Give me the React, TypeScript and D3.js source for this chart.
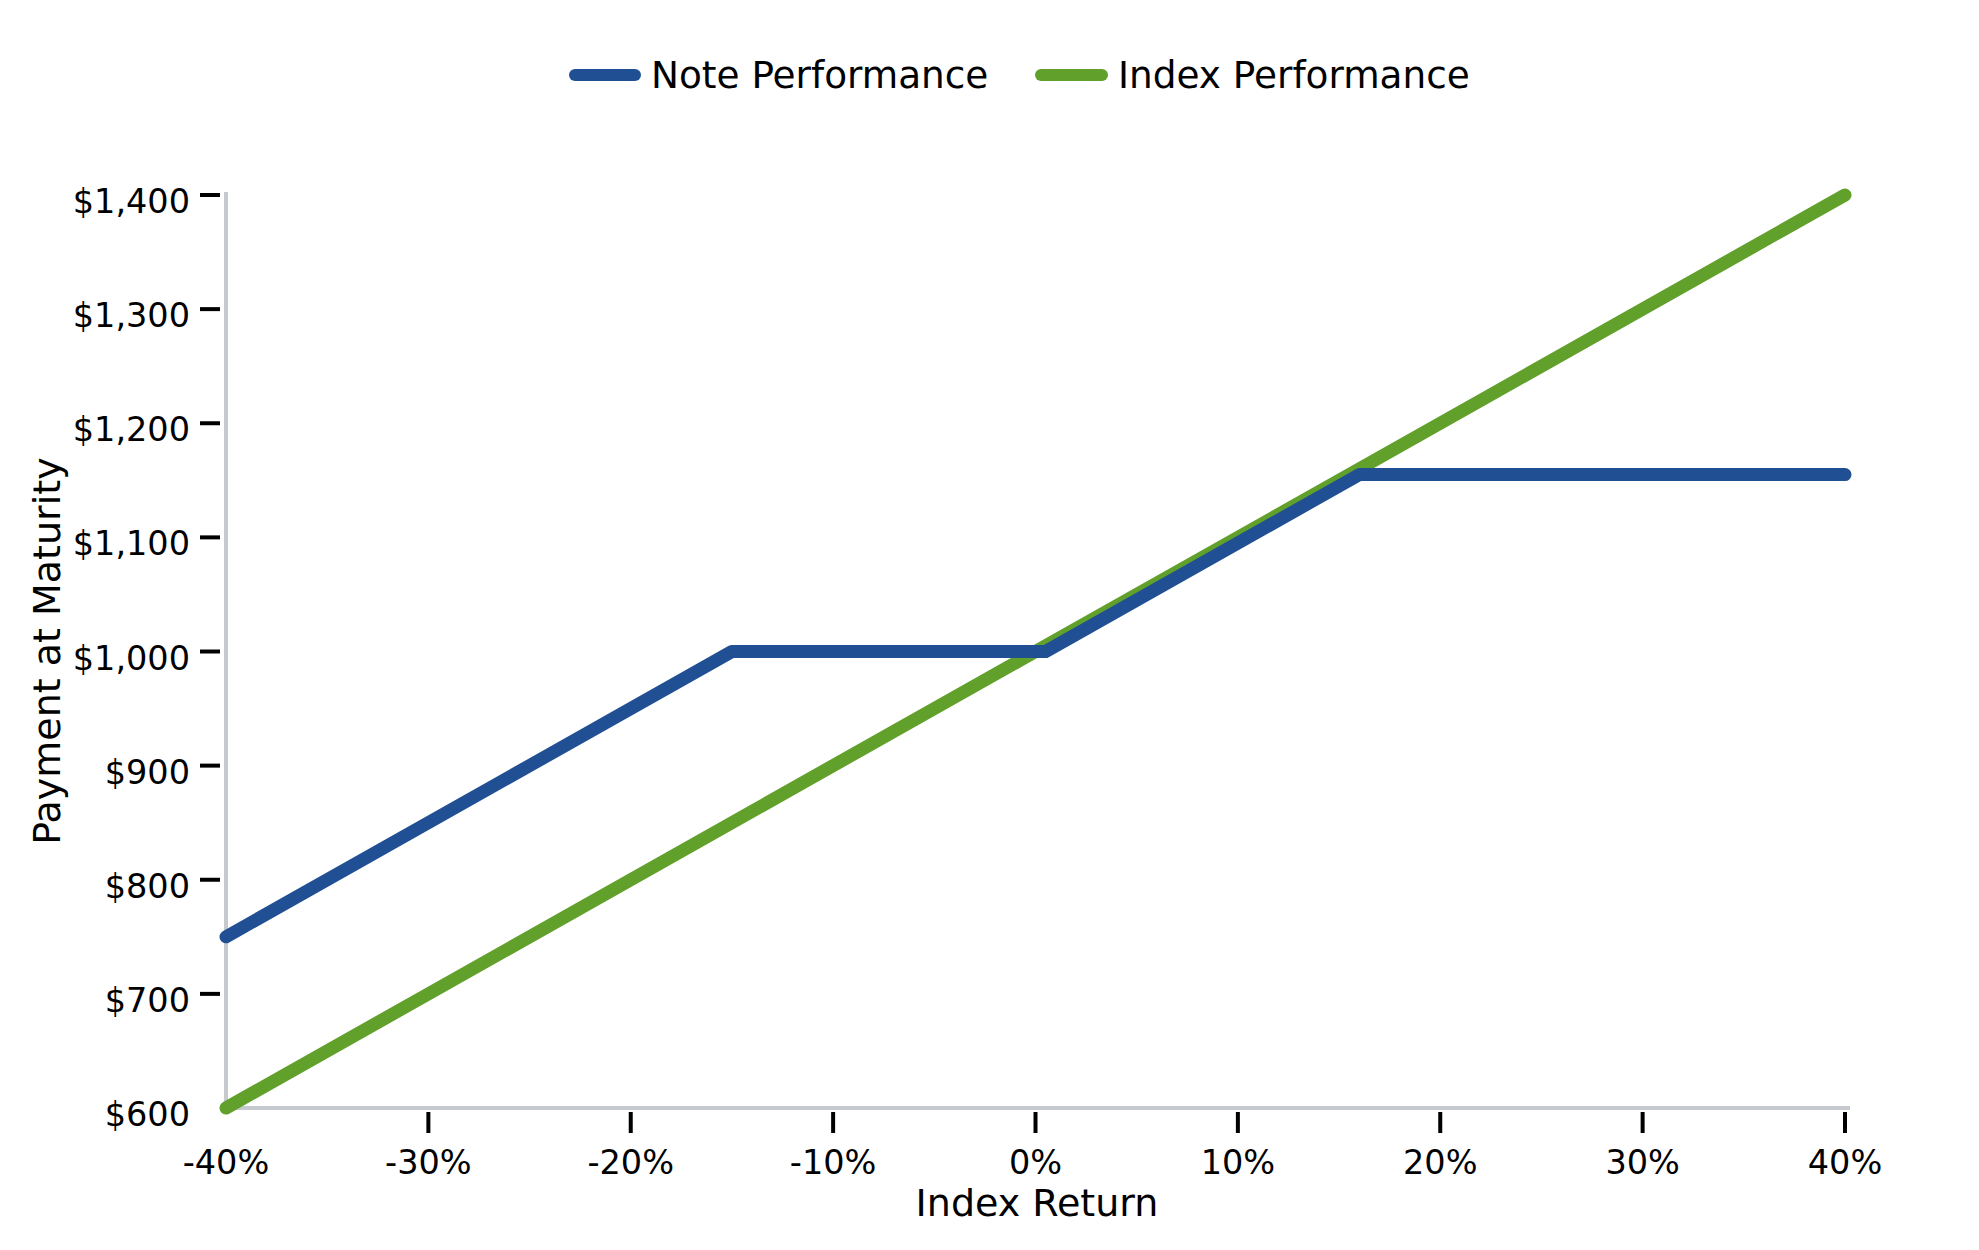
import React from "react";
import * as d3 from "d3";

const xTicks = [-40, -30, -20, -10, 0, 10, 20, 30, 40];
const yTicks = [600, 700, 800, 900, 1000, 1100, 1200, 1300, 1400];

// Index return (%) breakpoints and payment values
const noteReturn = [-40, -15, 0.5, 16, 40];
const notePayment = [750, 1000, 1000, 1155, 1155];
const indexReturn = [-40, 40];
const indexPayment = [600, 1400];

const seriesNames = ["Note Performance", "Index Performance"];
const seriesColors = ["#214f94", "#61a02b"];

const W = 1979;
const H = 1250;
const FONT = "'DejaVu Sans', sans-serif";

export default function App() {
  const x = d3.scaleLinear().domain([-40, 40]).range([226, 1845]);
  const y = d3.scaleLinear().domain([600, 1400]).range([1108, 195]);
  const line = d3
    .line<[number, number]>()
    .x((d) => x(d[0]))
    .y((d) => y(d[1]));

  const noteData: [number, number][] = noteReturn.map((r, i) => [r, notePayment[i]]);
  const indexData: [number, number][] = indexReturn.map((r, i) => [r, indexPayment[i]]);
  const fmtY = (v: number) => "$" + d3.format(",")(v);
  const axisColor = "#c6cacf";

  const legend = [
    { name: seriesNames[0], color: seriesColors[0], x1: 575, x2: 635, tx: 651 },
    { name: seriesNames[1], color: seriesColors[1], x1: 1041, x2: 1102, tx: 1118 },
  ];

  return (
    <svg
      width={W}
      height={H}
      style={{ position: "absolute", left: 0, top: 0, background: "#fff" }}
      fontFamily={FONT}
    >
      <rect x={0} y={0} width={W} height={H} fill="#fff" />
      {/* legend */}
      {legend.map((l) => (
        <g key={l.name}>
          <line x1={l.x1} x2={l.x2} y1={75} y2={75} stroke={l.color} strokeWidth={12} strokeLinecap="round" />
          <text x={l.tx} y={88} fontSize={37.4} fill="#000">
            {l.name}
          </text>
        </g>
      ))}

      {/* axes */}
      <line x1={226} x2={226} y1={192} y2={1110} stroke={axisColor} strokeWidth={4} />
      <line x1={224} x2={1850} y1={1108} y2={1108} stroke={axisColor} strokeWidth={4} />

      {/* y ticks */}
      {yTicks.map((v) => (
        <g key={v}>
          {v !== 600 && (
            <line x1={200} x2={220} y1={y(v)} y2={y(v)} stroke="#000" strokeWidth={4} />
          )}
          <text x={190} y={y(v) + 18} fontSize={33.5} textAnchor="end" fill="#000">
            {fmtY(v)}
          </text>
        </g>
      ))}

      {/* x ticks */}
      {xTicks.map((v) => (
        <g key={v}>
          {v !== -40 && (
            <line x1={x(v)} x2={x(v)} y1={1112} y2={1133} stroke="#000" strokeWidth={4} />
          )}
          <text x={x(v)} y={1174} fontSize={33.5} textAnchor="middle" fill="#000">
            {v + "%"}
          </text>
        </g>
      ))}

      {/* axis titles */}
      <text x={1037} y={1216} fontSize={38} textAnchor="middle" fill="#000">
        Index Return
      </text>
      <text
        transform={`translate(60,651) rotate(-90)`}
        fontSize={38}
        textAnchor="middle"
        fill="#000"
      >
        Payment at Maturity
      </text>

      {/* series */}
      <path d={line(indexData) || ""} fill="none" stroke={seriesColors[1]} strokeWidth={13} strokeLinecap="round" strokeLinejoin="round" />
      <path d={line(noteData) || ""} fill="none" stroke={seriesColors[0]} strokeWidth={13} strokeLinecap="round" strokeLinejoin="round" />
    </svg>
  );
}
